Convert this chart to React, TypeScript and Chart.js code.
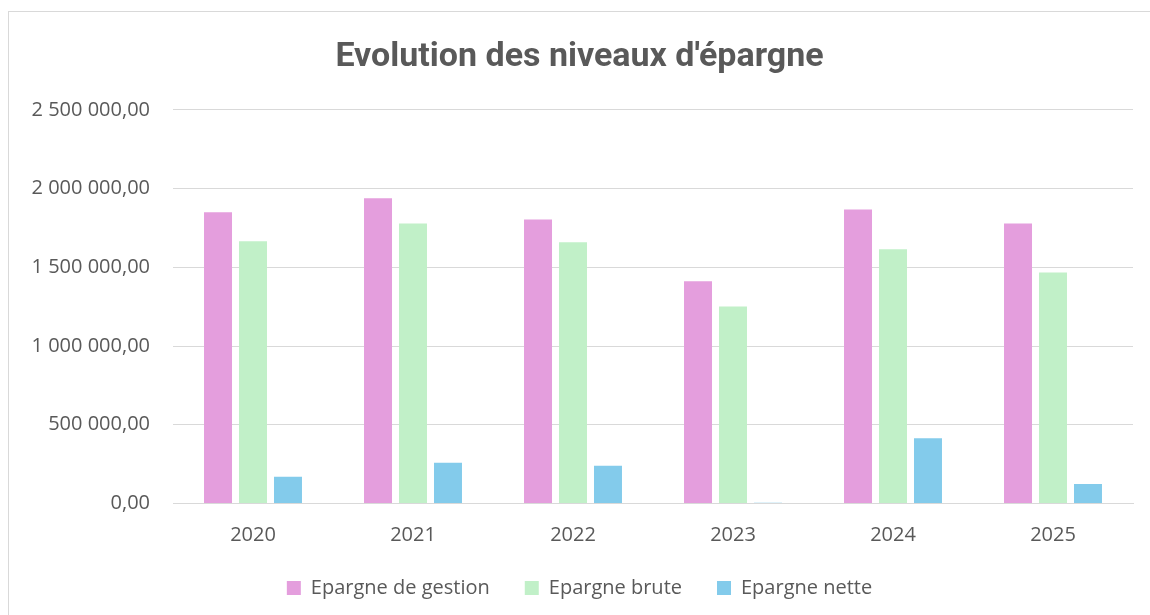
import React, { useEffect, useRef } from "react";
import { Chart, registerables } from "chart.js";

Chart.register(...registerables);

const years = ["2020", "2021", "2022", "2023", "2024", "2025"];
const epargneGestion = [1850000, 1938000, 1803000, 1412000, 1867000, 1778000];
const epargneBrute = [1666000, 1778000, 1659000, 1251000, 1615000, 1467000];
const epargneNette = [170000, 259000, 240000, 4000, 414000, 124000];
const yMin = 0;
const yMax = 2500000;
const yStep = 500000;

function formatFr(v: number): string {
  const fixed = Math.abs(v).toFixed(2);
  const [intPart, dec] = fixed.split(".");
  const grouped = intPart.replace(/\B(?=(\d{3})+(?!\d))/g, " ");
  return (v < 0 ? "-" : "") + grouped + "," + dec;
}

export default function App() {
  const ref = useRef<HTMLCanvasElement | null>(null);

  useEffect(() => {
    document.documentElement.style.overflow = "hidden";
    document.body.style.overflow = "hidden";
    if (!ref.current) return;
    const textColor = "#595959";
    const chart = new Chart(ref.current, {
      type: "bar",
      data: {
        labels: years,
        datasets: [
          { label: "Epargne de gestion", data: epargneGestion, backgroundColor: "#E49EDD", borderWidth: 0 },
          { label: "Epargne brute", data: epargneBrute, backgroundColor: "#C1F0C8", borderWidth: 0 },
          { label: "Epargne nette", data: epargneNette, backgroundColor: "#83CBEB", borderWidth: 0 },
        ],
      },
      options: {
        animation: false,
        responsive: false,
        maintainAspectRatio: false,
        layout: { padding: { left: 17, right: 17, top: 0, bottom: 7 } },
        datasets: { bar: { categoryPercentage: 0.656, barPercentage: 0.8 } },
        plugins: {
          title: {
            display: true,
            text: "Evolution des niveaux d'épargne",
            color: textColor,
            font: { family: "'Liberation Sans Narrow', 'Roboto', sans-serif", size: 34, weight: "bold", lineHeight: 1.2 },
            padding: { top: 25, bottom: 32 },
          },
          legend: {
            position: "bottom",
            labels: {
              color: textColor,
              boxWidth: 14,
              boxHeight: 14,
              padding: 35,
              font: { family: "'Open Sans', sans-serif", size: 20 },
            },
          },
          tooltip: { enabled: false },
        },
        scales: {
          x: {
            grid: { display: false, drawTicks: false },
            border: { display: true, color: "#D9D9D9", width: 1 },
            ticks: {
              color: textColor,
              padding: 22,
              font: { family: "'Open Sans', sans-serif", size: 20, lineHeight: 1.0 },
            },
            afterFit: (s: any) => {
              s.height = 39.5;
            },
          },
          y: {
            min: yMin,
            max: yMax,
            grid: { color: "#D9D9D9", lineWidth: 1, drawTicks: false },
            border: { display: false },
            ticks: {
              stepSize: yStep,
              color: textColor,
              padding: 23,
              font: { family: "'Open Sans', sans-serif", size: 20 },
              callback: (v: any) => formatFr(Number(v)),
            },
            afterFit: (s: any) => {
              s.width = 147;
            },
          },
        },
      },
    });
    return () => chart.destroy();
  }, []);

  return (
    <div style={{ position: "absolute", left: 8, top: 11, width: 1142, height: 604, overflow: "hidden" }}>
      <div
        style={{
          borderTop: "1px solid #D9D9D9",
          borderLeft: "1px solid #D9D9D9",
          width: 1141,
          height: 603,
          background: "#fff",
        }}
      >
        <canvas ref={ref} width={1141} height={603} style={{ display: "block" }} />
      </div>
    </div>
  );
}
